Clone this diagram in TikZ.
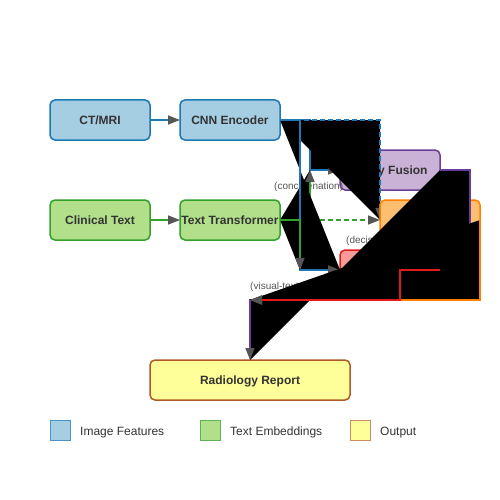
\documentclass[tikz,border=0pt]{standalone}
\usepackage{fontspec}
\setmainfont{Liberation Sans}
\usetikzlibrary{positioning, arrows.meta}
\definecolor{imgfill}{HTML}{A6CEE3}
\definecolor{imgline}{HTML}{1F78B4}
\definecolor{txtfill}{HTML}{B2DF8A}
\definecolor{txtline}{HTML}{33A02C}
\definecolor{earlyfill}{HTML}{CAB2D6}
\definecolor{earlyline}{HTML}{6A3D9A}
\definecolor{crossfill}{HTML}{FDBF6F}
\definecolor{crossline}{HTML}{FF7F00}
\definecolor{latefill}{HTML}{FB9A99}
\definecolor{lateline}{HTML}{E31A1C}
\definecolor{reportfill}{HTML}{FFFF99}
\definecolor{reportline}{HTML}{B15928}
\definecolor{tipgray}{HTML}{555555}
\definecolor{inkgray}{HTML}{333333}
\tikzset{
    x=1pt, y=-1pt, % one unit is one pixel of the picture, y runs down
    block/.style={ % every box of the pipeline
        rectangle, rounded corners=5pt, draw, line width=1.5pt,
        minimum width=100pt, minimum height=40pt,
        inner sep=0pt, outer sep=0pt,
        text height=8.6pt, text depth=0pt,
        font=\bfseries\fontsize{12}{14}\selectfont, text=inkgray
    },
    imgbox/.style={fill=imgfill, draw=imgline},
    txtbox/.style={fill=txtfill, draw=txtline},
    earlybox/.style={fill=earlyfill, draw=earlyline},
    crossbox/.style={fill=crossfill, draw=crossline},
    latebox/.style={fill=latefill, draw=lateline},
    reportbox/.style={fill=reportfill, draw=reportline},
    link/.style={ % every connector, grey heads
        line width=1.5pt,
        -{Triangle[length=12pt, width=9pt, color=tipgray]}
    },
    imgwire/.style={link, draw=imgline},
    txtwire/.style={link, draw=txtline},
    earlywire/.style={link, draw=earlyline},
    crosswire/.style={link, draw=crossline},
    latewire/.style={link, draw=lateline},
    loose/.style={dash pattern=on 5pt off 3pt},
    tag/.style={font=\fontsize{10}{12}\selectfont, text=tipgray, inner sep=0pt, anchor=west},
    key/.style={rectangle, draw, line width=1pt, minimum size=20pt, inner sep=0pt, outer sep=0pt},
    keytext/.style={font=\fontsize{12}{14}\selectfont, text=inkgray, inner sep=0pt,
        text height=8.6pt, text depth=0pt, right=10pt of #1, yshift=-1pt}
}
% a connector whose outline is also filled in black
\newcommand{\wire}[2]{\fill[black] #2 -- cycle; \draw[#1] #2;}

\begin{document}
\begin{tikzpicture}
    \useasboundingbox (0,0) rectangle (500,500);
    % inputs and encoders
    \node[block, imgbox] (ct) at (100,120) {CT/MRI};
    \node[block, imgbox, right=30pt of ct] (cnn) {CNN Encoder};
    \node[block, txtbox, below=60pt of ct] (clin) {Clinical Text};
    \node[block, txtbox, right=30pt of clin] (tt) {Text Transformer};
    \draw[imgwire] (ct) -- (cnn);
    \draw[txtwire] (clin) -- (tt);

    % junctions and box corners
    \coordinate (mixE) at (310,170);
    \coordinate (mixL) at (300,270);
    \coordinate (mixR) at (250,300);
    \coordinate (crossW) at (380,220);

    % early fusion
    \node[block, earlybox] (early) at (390,170) {\hspace*{3pt}Early Fusion};
    \wire{imgwire}{(cnn.east) -- ++(30,0) |- (early.west)}
    \node[tag] (lblcat) at (274,187) {(concatenation)};
    \wire{txtwire}{(tt.east) -| (mixE)}

    % cross attention
    \wire{imgwire, loose}{(cnn.east) -| (crossW)}
    \draw[txtwire, loose] (tt.east) -- (crossW);
    \node[block, crossbox, anchor=west] (cross) at (crossW) {};

    % late fusion
    \node[block, latebox] (late) at (390,270) {};
    \wire{imgwire}{(cnn.east) -- ++(20,0) |- (late.west)}
    \wire{txtwire}{(tt.east) -| (mixL)}
    \node[tag] (lbldec) at (346,241) {(decision-level)};

    % output
    \node[block, reportbox, minimum width=200pt] (report) at (250,380) {Radiology Report};
    \node[tag] (lblvis) at (250,287) {(visual-text attention)};
    \wire{earlywire}{(early.east) -- ++(30,0) |- (mixR) -- (report.north)}
    \wire{crosswire}{(cross.east) |- (mixR)}
    \wire{latewire}{(late.east) -- ++(-40,0) |- (mixR)}

    % legend
    \node[key, fill=imgfill, draw=imgline!80] (keyimg) at (60,430) {};
    \node[keytext=keyimg] (txtimg) {Image Features};
    \node[key, fill=txtfill, draw=txtline!80] (keytxt) at (210,430) {};
    \node[keytext=keytxt] (txttxt) {Text Embeddings};
    \node[key, fill=reportfill, draw=reportline!70] (keyout) at (360,430) {};
    \node[keytext=keyout] (txtout) {Output};
\end{tikzpicture}
\end{document}
